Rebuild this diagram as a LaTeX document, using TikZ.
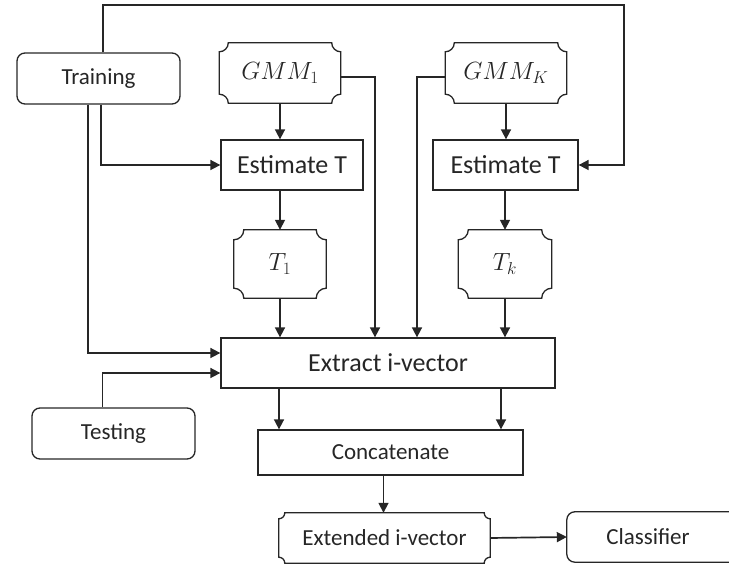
\documentclass[tikz,border=0pt]{standalone}
\usepackage{fontspec}
\setmainfont{Carlito}
\usetikzlibrary{arrows.meta}

% frame with concave rounded corners, drawn around a named node
\newcommand\plaqueframe[2]{%
  \draw[frame] ([xshift=#2]#1.north west) -- ([xshift=-#2]#1.north east)
    arc[start angle=180,end angle=270,radius=#2]
    -- ([yshift=#2]#1.south east)
    arc[start angle=90,end angle=180,radius=#2]
    -- ([xshift=#2]#1.south west)
    arc[start angle=0,end angle=90,radius=#2]
    -- ([yshift=-#2]#1.north west)
    arc[start angle=270,end angle=360,radius=#2] -- cycle;}

\begin{document}
\begin{tikzpicture}[x=1pt,y=1pt,
  frame/.style={draw=black!85,line width=1.3pt},
  txt/.style={font=\fontsize{23}{27}\selectfont,text=black!85,inner sep=0pt},
  bigtxt/.style={font=\fontsize{26}{30}\selectfont},
  rbox/.style={txt,frame,rounded corners=8pt},
  sbox/.style={txt,frame},
  plaque/.style={txt,draw=none},
  arr/.style={draw=black!85,line width=1.7pt,-{Triangle[length=10pt,width=10pt]}},
  line/.style={draw=black!85,line width=1.7pt}]
\useasboundingbox (0,0) rectangle (729,565);

% nodes
\node[rbox,minimum width=163pt,minimum height=51pt] (training) at (98.5,486.5) {Training};
\node[plaque,minimum width=121pt,minimum height=60pt] (gmm1) at (280,492) {$GMM_1$};
\node[plaque,minimum width=121pt,minimum height=60pt] (gmmk) at (506,492) {$GMM_K$};
\node[sbox,bigtxt,minimum width=142pt,minimum height=50pt] (est1) at (292,400) {Estimate T};
\node[sbox,bigtxt,minimum width=145pt,minimum height=50pt] (estk) at (505.5,400) {Estimate T};
\node[plaque,minimum width=92pt,minimum height=68pt] (t1) at (280,301) {$T_1$};
\node[plaque,minimum width=93pt,minimum height=68pt] (tk) at (505,301) {$T_k$};
\node[sbox,bigtxt,minimum width=334pt,minimum height=50pt] (extract) at (388,202) {Extract i-vector};
\node[rbox,minimum width=163pt,minimum height=51pt] (testing) at (113.5,131.5) {Testing};
\node[sbox,minimum width=265pt,minimum height=45pt] (concat) at (390.5,112.5) {Concatenate};
\node[plaque,minimum width=211pt,minimum height=50pt] (ext) at (384.5,27) {Extended i-vector};
\node[txt,minimum width=162pt,minimum height=50pt] (clf) at (648,28) {Classifier};
\draw[frame,rounded corners=8pt] (clf.south west) -- (clf.north west) -- ++(180pt,0)
  -- ([xshift=180pt]clf.south west) -- cycle;

\plaqueframe{gmm1}{9pt}
\plaqueframe{gmmk}{9pt}
\plaqueframe{t1}{10pt}
\plaqueframe{tk}{10pt}
\plaqueframe{ext}{6pt}

% connectors
\coordinate (loop) at (624,560);
\draw[arr] ([xshift=4.5pt]training.north) |- (loop) |- (estk.east);
\draw[arr] ([xshift=2.5pt]training.south) |- (est1.west);
\draw[arr] ([xshift=-10.5pt]training.south) |- ([yshift=10pt]extract.west);
\draw[arr] ([xshift=-11pt]testing.north) |- ([yshift=-10pt]extract.west);

\draw[arr] (gmm1.south) -- (gmm1.south |- est1.north);
\draw[arr] (gmmk.south) -- (gmmk.south |- estk.north);
\draw[arr] (t1.north |- est1.south) -- (t1.north);
\draw[arr] (tk.north |- estk.south) -- (tk.north);
\draw[arr] (t1.south) -- (t1.south |- extract.north);
\draw[arr] (tk.south) -- (tk.south |- extract.north);

\draw[arr] ([yshift=-4pt]gmm1.east) -| ([xshift=-13pt]extract.north);
\draw[arr] ([yshift=-4pt]gmmk.west) -| ([xshift=29pt]extract.north);

\coordinate (e1) at ([xshift=-109pt]extract.south);
\coordinate (e2) at ([xshift=113pt]extract.south);
\draw[arr] (e1) -- (e1 |- concat.north);
\draw[arr] (e2) -- (e2 |- concat.north);
\coordinate (c1) at ([xshift=-7pt]concat.south);
\draw[arr] (c1) -- (c1 |- ext.north);
\draw[arr] (ext.east) -- (clf.west);
\end{tikzpicture}
\end{document}
